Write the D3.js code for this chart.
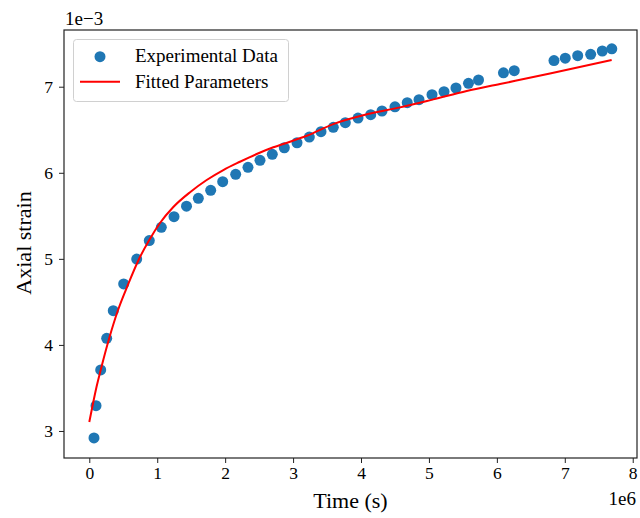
<!DOCTYPE html>
<html>
<head>
<meta charset="utf-8">
<script src="https://cdn.jsdelivr.net/npm/d3@7"></script>
<style>
  html, body { margin: 0; padding: 0; background: #fff; }
  svg { display: block; }
  text { font-family: "Liberation Serif", "Times New Roman", serif; fill: #000; }
</style>
</head>
<body>
<svg id="chart" width="640" height="518"></svg>
<script>
// Experimental data (time in units of 1e6 s, strain in units of 1e-3)
const expTime = [0.069, 0.099, 0.168, 0.256, 0.353, 0.506, 0.698, 0.883, 1.060, 1.247,
  1.431, 1.605, 1.787, 1.964, 2.155, 2.336, 2.513, 2.694, 2.871, 3.058,
  3.239, 3.411, 3.592, 3.769, 3.956, 4.143, 4.309, 4.500, 4.681, 4.854,
  5.045, 5.222, 5.398, 5.582, 5.730, 6.097, 6.256, 6.841, 7.007, 7.190,
  7.381, 7.552, 7.692];
const expStrain = [2.919, 3.294, 3.709, 4.077, 4.398, 4.708, 4.998, 5.213, 5.366, 5.490,
  5.612, 5.703, 5.796, 5.896, 5.982, 6.063, 6.145, 6.214, 6.291, 6.349,
  6.415, 6.477, 6.528, 6.582, 6.636, 6.675, 6.718, 6.767, 6.814, 6.849,
  6.907, 6.942, 6.985, 7.040, 7.078, 7.161, 7.186, 7.304, 7.331, 7.360,
  7.376, 7.415, 7.440];

// Fitted curve
const fitTime = [0.000, 0.050, 0.106, 0.168, 0.294, 0.418, 0.574, 0.732, 0.883, 1.041,
  1.237, 1.488, 1.728, 1.973, 2.218, 2.464, 2.709, 2.955, 3.202, 3.592,
  4.084, 4.574, 5.064, 5.556, 6.046, 6.782, 7.690];
const fitStrain = [3.105, 3.302, 3.511, 3.709, 4.080, 4.394, 4.708, 4.998, 5.219, 5.416,
  5.602, 5.777, 5.916, 6.032, 6.128, 6.218, 6.296, 6.361, 6.430, 6.566,
  6.679, 6.760, 6.853, 6.950, 7.031, 7.153, 7.310];

const xTicks = [0, 1, 2, 3, 4, 5, 6, 7, 8];
const yTicks = [3, 4, 5, 6, 7];
const legendLabels = ["Experimental Data", "Fitted Parameters"];
const xLabel = "Time (s)";
const yLabel = "Axial strain";
const xOffsetLabel = "1e6";
const yOffsetLabel = "1e\u22123";

const svg = d3.select("#chart");
const L = 64, R = 637, T = 30, B = 458;

const x = d3.scaleLinear().domain([-0.3724, 8.063]).range([L, R]);
const y = d3.scaleLinear().domain([2.686, 7.659]).range([B, T]);

const blue = "#1f77b4", red = "#ff0000";

// data
const pts = expTime.map((t, i) => ({ t, s: expStrain[i] }));
const fit = fitTime.map((t, i) => ({ t, s: fitStrain[i] }));

const plot = svg.append("g");
plot.append("defs").append("clipPath").attr("id", "clip")
  .append("rect").attr("x", L).attr("y", T).attr("width", R - L).attr("height", B - T);

plot.append("g").attr("clip-path", "url(#clip)")
  .selectAll("circle").data(pts).join("circle")
  .attr("cx", d => x(d.t)).attr("cy", d => y(d.s)).attr("r", 5.5)
  .attr("fill", blue);

plot.append("path").datum(fit)
  .attr("clip-path", "url(#clip)")
  .attr("fill", "none").attr("stroke", red).attr("stroke-width", 2)
  .attr("d", d3.line().x(d => x(d.t)).y(d => y(d.s)).curve(d3.curveMonotoneX));

// axes
const xAxis = svg.append("g").attr("transform", `translate(0,${B})`)
  .call(d3.axisBottom(x).tickValues(xTicks).tickFormat(d3.format("d")).tickSize(5).tickPadding(4));
const yAxis = svg.append("g").attr("transform", `translate(${L},0)`)
  .call(d3.axisLeft(y).tickValues(yTicks).tickFormat(d3.format("d")).tickSize(5).tickPadding(6));
[xAxis, yAxis].forEach(a => {
  a.select(".domain").remove();
  a.selectAll(".tick line").attr("stroke", "#222").attr("stroke-width", 1);
  a.selectAll(".tick text").style("font-family", '"Liberation Serif", serif').style("font-size", "17.5px").attr("fill", "#111");
});

// frame
svg.append("rect").attr("x", L).attr("y", T).attr("width", R - L).attr("height", B - T)
  .attr("fill", "none").attr("stroke", "#222").attr("stroke-width", 1.2);

// labels
svg.append("text").attr("x", 350.5).attr("y", 508).attr("text-anchor", "middle")
  .style("font-size", "22px").text(xLabel);
svg.append("text").attr("transform", "translate(31,243) rotate(-90)").attr("text-anchor", "middle")
  .style("font-size", "22px").text(yLabel);
svg.append("text").attr("x", 65).attr("y", 25).style("font-size", "19px").text(yOffsetLabel);
svg.append("text").attr("x", 636).attr("y", 505).attr("text-anchor", "end").style("font-size", "19px").text(xOffsetLabel);

// legend
const lg = svg.append("g");
lg.append("rect").attr("x", 73.5).attr("y", 39.5).attr("width", 215).attr("height", 62)
  .attr("rx", 3).attr("fill", "#fff").attr("fill-opacity", 0.8).attr("stroke", "#d0d0d0");
lg.append("circle").attr("cx", 100).attr("cy", 56.7).attr("r", 5.5).attr("fill", blue);
lg.append("line").attr("x1", 80).attr("x2", 120).attr("y1", 81.7).attr("y2", 81.7)
  .attr("stroke", red).attr("stroke-width", 2);
lg.selectAll("text.lab").data(legendLabels).join("text").attr("class", "lab")
  .attr("x", 135).attr("y", (d, i) => 62.3 + i * 26)
  .style("font-size", "19px").text(d => d);
</script>
</body>
</html>
